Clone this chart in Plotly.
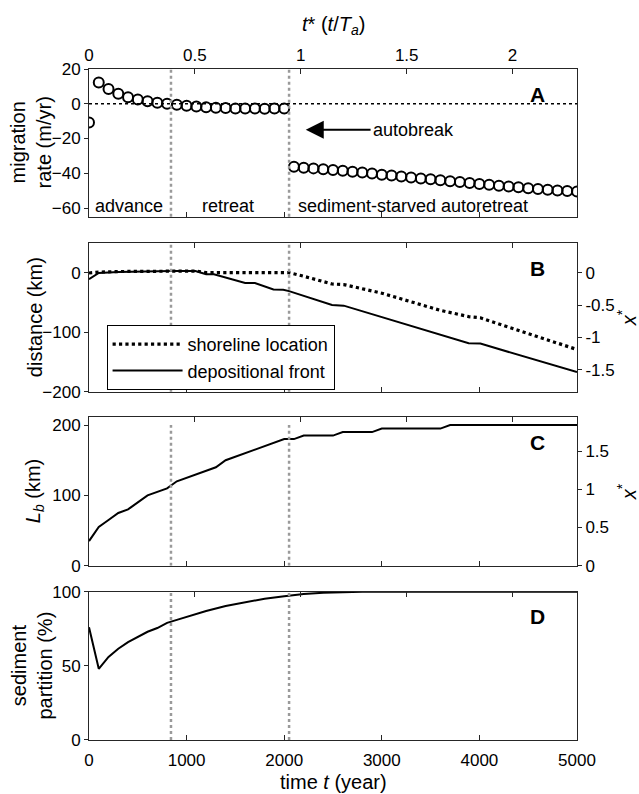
import plotly.graph_objects as go

# ---------------- data ----------------
T_A = 2170.0          # years, t* = t / T_a
L_SCALE = 108.5       # km, x* = distance / L_scale
phase_bounds = [840, 2050]

rate_t = [0, 100, 200, 300, 400, 500, 600, 700, 800, 900,
          1000, 1100, 1200, 1300, 1400, 1500, 1600, 1700, 1800, 1900,
          2000, 2100, 2200, 2300, 2400, 2500, 2600, 2700, 2800, 2900,
          3000, 3100, 3200, 3300, 3400, 3500, 3600, 3700, 3800, 3900,
          4000, 4100, 4200, 4300, 4400, 4500, 4600, 4700, 4800, 4900, 5000]
rate_val = [-10.8, 12.2, 8.5, 5.7, 3.8, 2.5, 1.4, 0.6, 0.0, -0.6,
            -1.1, -1.6, -2.0, -2.3, -2.5, -2.7, -2.8, -2.8, -2.9, -2.8,
            -2.7, -36.3, -36.8, -37.2, -37.7, -38.1, -38.6, -39.2, -39.6, -40.2,
            -40.8, -41.3, -41.9, -42.4, -43.0, -43.4, -44.0, -44.6, -45.1, -45.6,
            -46.2, -46.6, -47.2, -47.6, -48.1, -48.6, -49.1, -49.5, -49.9, -50.2, -50.5]

shore_t = [0, 100, 300, 600, 1100, 1200, 2050, 2200, 2490, 2610, 3000, 3600, 3890, 4010, 5000]
shore_km = [0, 1.5, 2.5, 3.2, 3.3, 0.8, 0.6, -5.5, -18.5, -19.5, -34, -63, -73.5, -75.5, -129]

front_t = [0, 100, 300, 600, 840, 1090, 1200, 1280, 1600, 1700, 1890, 1990, 2050,
           2490, 2610, 3890, 4010, 5000]
front_km = [-10.5, 0, 1.5, 2.8, 3.3, 3.3, -2, -2.2, -16.7, -16.9, -27.8, -28.3, -30.5,
            -54, -55, -118.5, -119, -167]

lb_t = [0, 100, 200, 300, 400, 600, 800, 900, 1300, 1400, 2000, 2100, 2200,
        2500, 2600, 2900, 3000, 3600, 3700, 5000]
lb_km = [35, 55, 65, 75, 80, 100, 110, 120, 140, 150, 180, 180, 185,
         185, 190, 190, 195, 195, 200, 200]

part_t = [0, 100, 200, 300, 400, 500, 600, 700, 800, 900, 1000, 1200, 1400, 1600,
          1800, 2000, 2200, 2400, 2600, 2800, 3000, 5000]
part_pct = [76, 48, 56, 61.5, 66, 69.5, 73, 75.5, 79, 81, 83, 87, 90.3, 93,
            95.3, 97, 98.5, 99.3, 99.7, 99.9, 100, 100]

year_ticks = [0, 1000, 2000, 3000, 4000, 5000]
tstar_ticks = [0, 0.5, 1, 1.5, 2]
tstar_labels = ["0", "0.5", "1", "1.5", "2"]

# axis limits
t_range = [0, 5000]
a_range = [-65, 20]
b_range = [-200, 50]
c_range = [0, 211]
d_range = [0, 100]

# ---------------- styling ----------------
FONT = "Liberation Sans, Arial, sans-serif"
AX = "#262626"
TICK_FS = 17
TITLE_FS = 20
GRAY = "#9a9a9a"

fig = go.Figure()

# Panel A
fig.add_trace(go.Scatter(x=rate_t, y=rate_val, mode="markers", xaxis="x", yaxis="y",
                         marker=dict(symbol="circle-open", size=10, color="black",
                                     line=dict(width=2, color="black")),
                         showlegend=False))
# Panel B
fig.add_trace(go.Scatter(x=shore_t, y=shore_km, mode="lines", xaxis="x2", yaxis="y2",
                         name="shoreline location",
                         line=dict(color="black", width=3.2, dash="dot")))
fig.add_trace(go.Scatter(x=front_t, y=front_km, mode="lines", xaxis="x2", yaxis="y2",
                         name="depositional front",
                         line=dict(color="black", width=2)))
# Panel C
fig.add_trace(go.Scatter(x=lb_t, y=lb_km, mode="lines", xaxis="x3", yaxis="y3",
                         line=dict(color="black", width=2), showlegend=False))
# Panel D
fig.add_trace(go.Scatter(x=part_t, y=part_pct, mode="lines", xaxis="x4", yaxis="y4",
                         line=dict(color="black", width=2), showlegend=False))

# invisible helper traces so the secondary (t*, x*) axes are rendered
tstar_end = t_range[1] / T_A
for xa, ya, yr in (("x5", "y", a_range), ("x6", "y2", b_range),
                   ("x7", "y3", c_range), ("x8", "y4", d_range)):
    fig.add_trace(go.Scatter(x=[0, tstar_end], y=yr, xaxis=xa, yaxis=ya, mode="lines",
                             line=dict(width=0, color="rgba(0,0,0,0)"),
                             hoverinfo="skip", showlegend=False))
for xa, ya, yr in (("x2", "y5", b_range), ("x3", "y6", c_range)):
    fig.add_trace(go.Scatter(x=t_range, y=[v / L_SCALE for v in yr], xaxis=xa, yaxis=ya,
                             mode="lines", line=dict(width=0, color="rgba(0,0,0,0)"),
                             hoverinfo="skip", showlegend=False))

domains = {
    "A": [0.7799, 1.0],
    "B": [0.5191, 0.7402],
    "C": [0.2598, 0.4809],
    "D": [0.0, 0.2210],
}

def xbottom(anchor, labels=False):
    return dict(domain=[0, 1], anchor=anchor, range=t_range, tickmode="array",
                tickvals=year_ticks, ticks="inside", ticklen=5, tickwidth=1, tickcolor=AX,
                showline=True, linecolor=AX, linewidth=1, showgrid=False, zeroline=False,
                showticklabels=labels, ticklabelstandoff=5, automargin=False,
                tickfont=dict(size=TICK_FS, color="black", family=FONT))

def xtop(overlay, anchor, labels=False):
    return dict(overlaying=overlay, anchor=anchor, side="top", range=[0, tstar_end],
                tickmode="array", tickvals=tstar_ticks, ticktext=tstar_labels,
                ticks="inside", ticklen=5, tickwidth=1, tickcolor=AX,
                showline=True, linecolor=AX, linewidth=1, showgrid=False, zeroline=False,
                showticklabels=labels, ticklabelstandoff=0, automargin=False,
                tickfont=dict(size=TICK_FS, color="black", family=FONT))

def yleft(dom, anchor, rng, vals, mirror):
    return dict(domain=dom, anchor=anchor, range=rng, tickmode="array", tickvals=vals,
                ticks="outside", ticklen=4, tickwidth=1, tickcolor=AX,
                showline=True, linecolor=AX, linewidth=1, mirror=mirror,
                showgrid=False, zeroline=False, automargin=False,
                tickfont=dict(size=TICK_FS, color="black", family=FONT))

def yright(overlay, anchor, rng, vals, labels):
    return dict(overlaying=overlay, anchor=anchor, side="right",
                range=[v / L_SCALE for v in rng],
                tickmode="array", tickvals=vals, ticktext=labels,
                ticks="outside", ticklen=4, tickwidth=1, tickcolor=AX,
                showline=True, linecolor=AX, linewidth=1, showgrid=False, zeroline=False,
                automargin=False,
                tickfont=dict(size=TICK_FS, color="black", family=FONT))

fig.update_layout(
    width=639, height=794,
    margin=dict(l=89, r=62, t=69, b=54, autoexpand=False),
    paper_bgcolor="white", plot_bgcolor="white",
    font=dict(family=FONT, color="black", size=TICK_FS),
    xaxis=xbottom("y"),
    xaxis2=xbottom("y2"),
    xaxis3=xbottom("y3"),
    xaxis4=xbottom("y4", labels=True),
    xaxis5=xtop("x", "y", labels=True),
    xaxis6=xtop("x2", "y2"),
    xaxis7=xtop("x3", "y3"),
    xaxis8=xtop("x4", "y4"),
    yaxis=yleft(domains["A"], "x", a_range, [-60, -40, -20, 0, 20], True),
    yaxis2=yleft(domains["B"], "x2", b_range, [-200, -100, 0], False),
    yaxis3=yleft(domains["C"], "x3", c_range, [0, 100, 200], False),
    yaxis4=yleft(domains["D"], "x4", d_range, [0, 50, 100], True),
    yaxis5=yright("y2", "x2", b_range, [-1.5, -1, -0.5, 0], ["-1.5", "-1", "-0.5", "0"]),
    yaxis6=yright("y3", "x3", c_range, [0, 0.5, 1, 1.5], ["0", "0.5", "1", "1.5"]),
    legend=dict(x=0.036, y=0.6185, xanchor="left", yanchor="top",
                bordercolor="black", borderwidth=1, bgcolor="white",
                font=dict(size=18, color="black", family=FONT),
                itemwidth=70, tracegroupgap=0),
    showlegend=True,
)

# phase boundary lines (gray dotted) and zero line in panel A
shapes = []
for b in phase_bounds:
    for xr, yr, span in (("x", "y", None), ("x2", "y2", None), ("x3", "y3", (0, 200)),
                         ("x4", "y4", None)):
        if span is None:
            shapes.append(dict(type="line", xref=xr, yref=f"{yr} domain",
                               x0=b, x1=b, y0=0, y1=1,
                               line=dict(color=GRAY, width=2.5, dash="dot")))
        else:
            shapes.append(dict(type="line", xref=xr, yref=yr,
                               x0=b, x1=b, y0=span[0], y1=span[1],
                               line=dict(color=GRAY, width=2.5, dash="dot")))
shapes.append(dict(type="line", xref="x domain", yref="y", x0=0, x1=1, y0=0, y1=0,
                   line=dict(color="black", width=1.5, dash="dot"), layer="below"))
fig.update_layout(shapes=shapes)

title_font = dict(size=TITLE_FS, color="black", family=FONT)
ann = []
# axis titles
for txt, xp, dom in (("migration<br>rate (m/yr)", -0.1197, domains["A"]),
                     ("distance (km)", -0.1113, domains["B"]),
                     ("<i>L</i><sub><i>b</i></sub> (km)", -0.1113, domains["C"]),
                     ("sediment<br>partition (%)", -0.1175, domains["D"])):
    ann.append(dict(text=txt, xref="paper", yref="paper", x=xp, y=sum(dom) / 2,
                    xanchor="center", yanchor="middle", textangle=-90, showarrow=False,
                    font=title_font))
for dom in (domains["B"], domains["C"]):
    ann.append(dict(text="<i>x</i><sup>*</sup>", xref="paper", yref="paper", x=1.1018,
                    y=sum(dom) / 2, xanchor="center", yanchor="middle", textangle=-90,
                    showarrow=False, font=title_font))
ann.append(dict(text="time <i>t</i> (year)", xref="paper", yref="paper", x=0.5, y=-0.0626,
                xanchor="center", yanchor="middle", showarrow=False, font=title_font))
ann.append(dict(text="<i>t</i>* (<i>t</i>/<i>T</i><sub><i>a</i></sub>)", xref="paper",
                yref="paper", x=0.5, y=1.0641, xanchor="center", yanchor="middle",
                showarrow=False, font=title_font))
# panel letters
for letter, ya in (("A", "y"), ("B", "y2"), ("C", "y3"), ("D", "y4")):
    ann.append(dict(text=f"<b>{letter}</b>", xref="x domain", yref=f"{ya} domain",
                    x=0.92, y=0.83, xanchor="center", yanchor="middle", showarrow=False,
                    font=dict(size=21, color="black", family=FONT)))
# phase labels and autobreak arrow
for txt, xt in (("advance", 406), ("retreat", 1427), ("sediment-starved autoretreat", 3323)):
    ann.append(dict(text=txt, x=xt, y=-58.8, xref="x", yref="y", showarrow=False,
                    xanchor="center", yanchor="middle",
                    font=dict(size=18, color="black", family=FONT)))
ann.append(dict(text="autobreak", x=2221, y=-15, ax=2885, ay=-15, xref="x", yref="y",
                axref="x", ayref="y", xanchor="left", showarrow=True, arrowhead=2,
                arrowsize=1.8, arrowwidth=2, arrowcolor="black", standoff=0,
                font=dict(size=18, color="black", family=FONT)))
fig.update_layout(annotations=ann)

fig.write_html("out.html")
